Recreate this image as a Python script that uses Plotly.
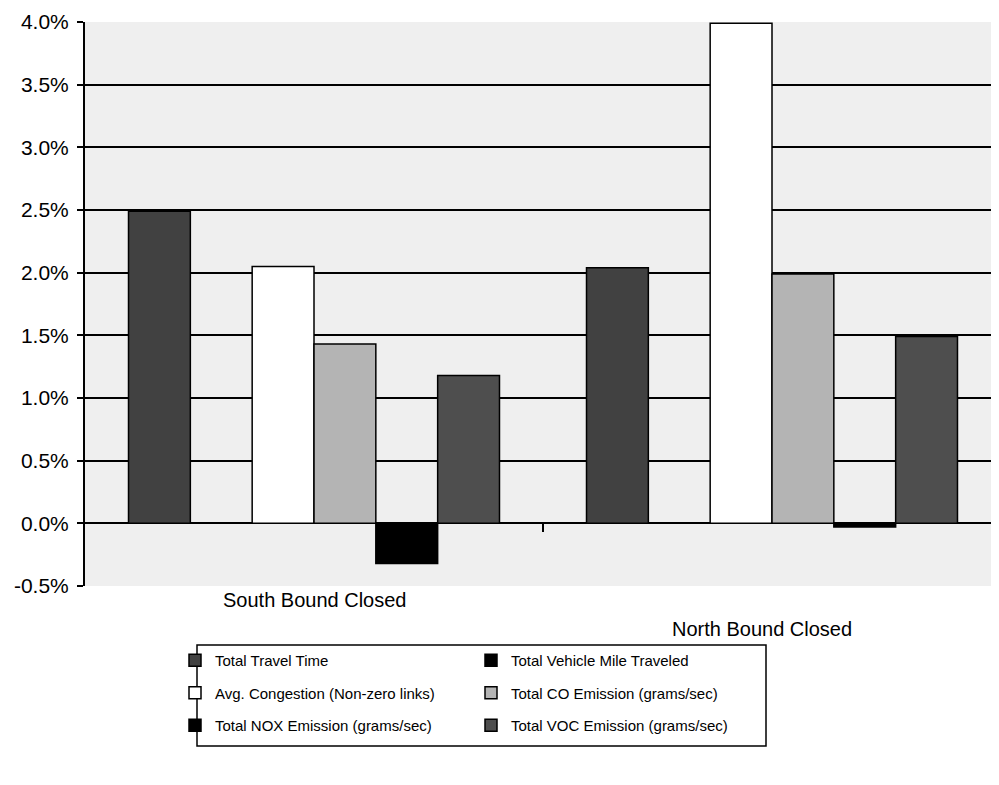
import plotly.graph_objects as go

categories = ["South Bound Closed", "North Bound Closed"]
series_names = [
    "Total Travel Time",
    "Total Vehicle Mile Traveled",
    "Avg. Congestion (Non-zero links)",
    "Total CO Emission (grams/sec)",
    "Total NOX Emission (grams/sec)",
    "Total VOC Emission (grams/sec)",
]
total_travel_time = [2.49, 2.04]
total_vmt = [0.0, 0.0]
avg_congestion = [2.05, 3.99]
total_co = [1.43, 1.99]
total_nox = [-0.32, -0.03]
total_voc = [1.18, 1.49]
y_ticks = [-0.5, 0.0, 0.5, 1.0, 1.5, 2.0, 2.5, 3.0, 3.5, 4.0]

series_values = [total_travel_time, total_vmt, avg_congestion, total_co, total_nox, total_voc]
colors = ["#414141", "#000000", "#ffffff", "#b4b4b4", "#000000", "#4e4e4e"]
legend_ids = ["legend", "legend2", "legend", "legend2", "legend", "legend2"]

FONT = "Liberation Sans, Arial, sans-serif"

fig = go.Figure()
for i, (name, vals) in enumerate(zip(series_names, series_values)):
    fig.add_trace(go.Bar(
        x=categories, y=vals, name=name,
        marker=dict(color=colors[i], line=dict(color="black", width=1.5)),
        legend=legend_ids[i], legendgroup=f"g{i}",
    ))

# page body has an 8px margin; work in window pixels and convert
OFF = 8
W, H = 1001 - OFF, 785 - OFF
L, R, T, B = 85 - OFF, 0, 22 - OFF, 785 - 586
pw = W - L - R
ph = H - T - B

def px_x(x):
    return (x - OFF - L) / pw

def px_y(y):
    return (H - B - (y - OFF)) / ph

leg_common = dict(
    orientation="v", yanchor="top", xanchor="left",
    bgcolor="rgba(0,0,0,0)", borderwidth=0,
    font=dict(family=FONT, size=15, color="black"),
    tracegroupgap=10, itemwidth=30,
)

fig.update_layout(
    width=W, height=H,
    margin=dict(l=L, r=R, t=T, b=B),
    paper_bgcolor="white",
    plot_bgcolor="#efefef",
    barmode="group",
    bargap=0.19, bargroupgap=0.0,
    font=dict(family=FONT, color="black"),
    legend=dict(x=px_x(175), y=px_y(644), **leg_common),
    legend2=dict(x=px_x(471), y=px_y(644), **leg_common),
    showlegend=True,
)

fig.update_yaxes(
    range=[-0.5, 4.0], tickvals=y_ticks, ticktext=[f"{v:.1f}%" for v in y_ticks],
    showgrid=True, gridcolor="black", gridwidth=1.5,
    zeroline=True, zerolinecolor="black", zerolinewidth=2,
    showline=True, linecolor="black", linewidth=2,
    ticks="outside", ticklen=6, tickcolor="black", tickwidth=1.5,
    tickfont=dict(family=FONT, size=21, color="black"),
    ticklabelstandoff=4,
)
fig.update_xaxes(showticklabels=False, showgrid=False, showline=False, ticks="")

# category labels
fig.add_annotation(x=categories[0], xref="x", y=0, yref="paper", yanchor="top",
                   yshift=-1, text=categories[0], showarrow=False,
                   font=dict(family=FONT, size=20, color="black"))
fig.add_annotation(x=categories[1], xref="x", y=0, yref="paper", yanchor="top",
                   yshift=-30, xshift=-10, text=categories[1], showarrow=False,
                   font=dict(family=FONT, size=20, color="black"))

# category divider tick on the zero line
fig.add_shape(type="line", xref="x", yref="y", x0=0.5, x1=0.5, y0=0, y1=-0.07,
              line=dict(color="black", width=2))

# legend frame
fig.add_shape(type="rect", xref="paper", yref="paper",
              x0=px_x(197), x1=px_x(766), y0=px_y(746), y1=px_y(645),
              line=dict(color="black", width=1.5), fillcolor="rgba(0,0,0,0)")

fig.write_html("out.html")
